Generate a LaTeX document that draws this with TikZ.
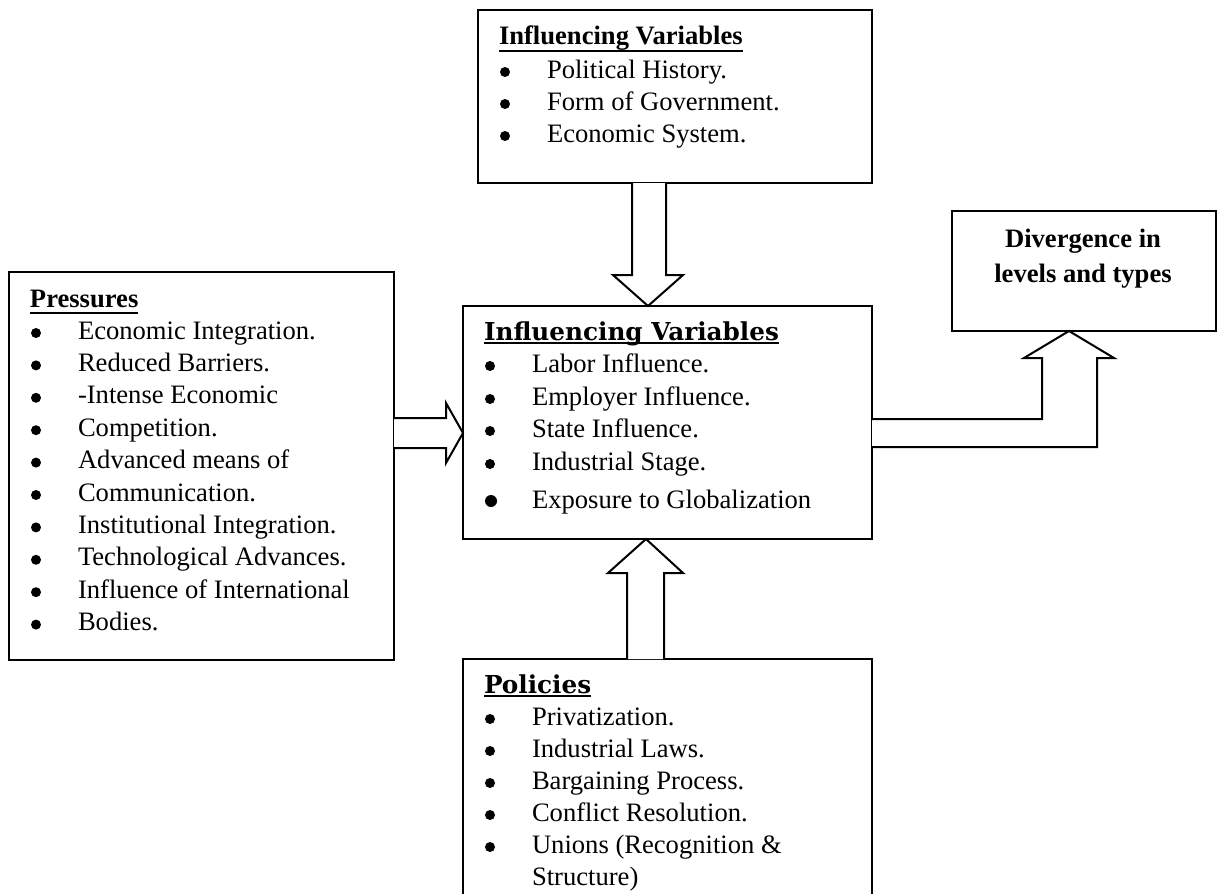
\documentclass[tikz,border=0pt]{standalone}
\usepackage{fontspec}
\setmainfont{Liberation Serif}
\newfontfamily\titlefont{DejaVu Serif}
\usetikzlibrary{calc}
\newcommand\ulbar[2][-3.5pt]{\setbox0\hbox{#2}\rlap{\rule[#1]{\wd0}{1.2pt}}\box0}
\begin{document}
\begin{tikzpicture}[x=0.5pt,y=-0.5pt,line width=1pt,
  box/.style={draw,inner sep=0pt,outer sep=0pt,line join=miter},
  txt/.style={inner sep=0pt,outer sep=0pt,anchor=base west,font=\fontsize{13.3}{16}\selectfont},
  dot/.style={circle,fill=black,draw=none,inner sep=0pt,minimum size=5pt},
  hd/.style={txt,font=\fontsize{13.3}{16}\selectfont\bfseries},
  bighd/.style={txt,font=\titlefont\bfseries\fontsize{12.35}{14}\selectfont},
  blk/.style={draw,fill=white,line join=miter}]
\clip (0,0) rectangle (1217,894);
\fill[white] (0,0) rectangle (1217,894);
% boxes
\node[box,minimum width=197pt,minimum height=86.5pt] (topbox) at (675,96.5) {};
\node[box,minimum width=192.5pt,minimum height=194pt] (leftbox) at (201.5,466) {};
\node[box,minimum width=204.5pt,minimum height=116.5pt] (midbox) at (667.5,422.5) {};
\node[box,minimum width=204.5pt,minimum height=150.5pt] (botbox) at (667.5,809.5) {};
\node[box,minimum width=132pt,minimum height=60pt] (divbox) at (1084,271) {};
% top box text
\node[hd] (toptitle) at (499,45) {\ulbar{Influencing Variables}};
\foreach \t [count=\i from 0] in {Political History., Form of Government., Economic System.}{
  \node[dot] (topb\i) at (505,{72+32*\i}) {};
  \node[txt] (topt\i) at (547,{78+32*\i}) {\t};
}
% left box text
\node[hd] (lefttitle) at (30,307) {\ulbar{Pressures}};
\foreach \t [count=\i from 0] in {Economic Integration., Reduced Barriers., -Intense Economic, Competition., Advanced means of, Communication., Institutional Integration., Technological Advances., Influence of International, Bodies.}{
  \node[dot] (leftb\i) at (36,{333+32.4*\i}) {};
  \node[txt] (leftt\i) at (78,{339+32.4*\i}) {\t};
}
% middle box text
\node[bighd] (midtitle) at (484,340) {\ulbar[-2.2pt]{Influencing Variables}};
\foreach \t/\yy [count=\i from 0] in {Labor Influence./372, Employer Influence./405, State Influence./437, Industrial Stage./470}{
  \node[dot] (midb\i) at (490,\yy-6) {};
  \node[txt] (midt\i) at (532,\yy) {\t};
}
\node[dot,minimum size=6pt] (midb4) at (491,501) {};
\node[txt] (midt4) at (532,508) {Exposure to Globalization};
% bottom box text
\node[bighd] (bottitle) at (484,693) {\ulbar[-2.2pt]{Policies}};
\foreach \t [count=\i from 0] in {Privatization., Industrial Laws., Bargaining Process., Conflict Resolution., Unions (Recognition \&}{
  \node[dot] (botb\i) at (490,{719+32*\i}) {};
  \node[txt] (bott\i) at (532,{725+32*\i}) {\t};
}
\node[txt] (bott5) at (532,885) {Structure)};
% divergence text
\node[hd,anchor=base] (div1) at (1083,247) {Divergence in};
\node[hd,anchor=base] (div2) at (1083,282) {levels and types};
% block arrows
\draw[blk] ($(topbox.south west)+(154,0)$) -- ++(0,92) -- ++(-19,0)
  -- ($(midbox.north west)+(185,0)$) -- ++(35,-31) -- ++(-17,0)
  -- ($(topbox.south west)+(188,0)$);
\draw[blk] ($(leftbox.north east)+(0,146)$) -- ++(52,0) -- ++(0,-15)
  -- ($(midbox.north west)+(0,127)$) -- ++(-17,30) -- ++(0,-15)
  -- ($(leftbox.north east)+(0,176)$);
\draw[blk] ($(botbox.north west)+(164,0)$) -- ++(0,-86) -- ++(-19,0)
  -- ($(midbox.south west)+(183,0)$) -- ++(37,34) -- ++(-19,0)
  -- ($(botbox.north west)+(201,0)$);
\draw[blk] ($(midbox.north east)+(0,113)$) -- ++(170,0) -- ++(0,-61) -- ++(-18,0)
  -- ($(divbox.south west)+(117,0)$) -- ++(45,27) -- ++(-17,0) -- ++(0,89)
  -- ($(midbox.north east)+(0,141)$);
\end{tikzpicture}
\end{document}
